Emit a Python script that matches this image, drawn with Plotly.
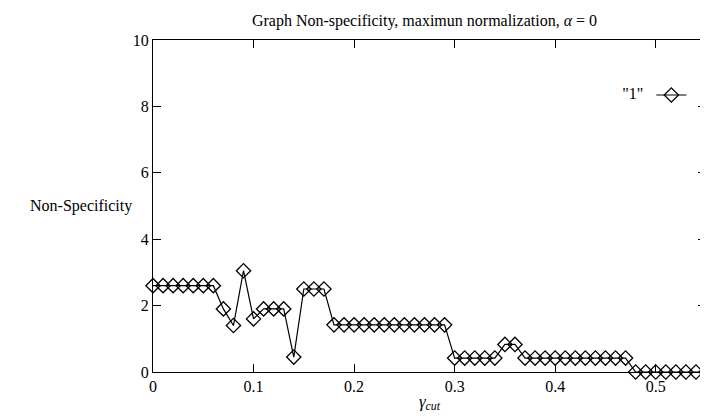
import plotly.graph_objects as go

# gamma cut values, one point every 0.01
gamma_cut = [round(i * 0.01, 2) for i in range(56)]
non_specificity = [
    2.6, 2.6, 2.6, 2.6, 2.6, 2.6, 2.6, 1.9, 1.4, 3.05,
    1.6, 1.9, 1.9, 1.9, 0.45, 2.5, 2.5, 2.5, 1.42, 1.42,
    1.42, 1.42, 1.42, 1.42, 1.42, 1.42, 1.42, 1.42, 1.42, 1.42,
    0.42, 0.42, 0.42, 0.42, 0.42, 0.83, 0.83, 0.42, 0.42, 0.42,
    0.42, 0.42, 0.42, 0.42, 0.42, 0.42, 0.42, 0.42, 0.0, 0.0,
    0.0, 0.0, 0.0, 0.0, 0.0, 0.0,
]
x_ticks = [0, 0.1, 0.2, 0.3, 0.4, 0.5]
x_tick_labels = ["0", "0.1", "0.2", "0.3", "0.4", "0.5"]
y_ticks = [0, 2, 4, 6, 8, 10]

serif = "Liberation Serif"

fig = go.Figure()
fig.add_scatter(
    x=gamma_cut, y=non_specificity, mode="lines+markers", name="",
    line=dict(color="black", width=1.2),
    marker=dict(symbol="diamond-open", size=11, color="black", line=dict(width=1.3)),
    cliponaxis=False,
)

axis_common = dict(
    showline=True, linecolor="black", linewidth=1.2, mirror="ticks",
    ticks="inside", ticklen=8, tickcolor="black", tickwidth=1,
    showgrid=False, zeroline=False, automargin=False,
    tickfont=dict(family=serif, size=16, color="black"),
)
fig.update_xaxes(
    range=[0, 0.55], tickvals=x_ticks, ticktext=x_tick_labels,
    title=dict(text="<i>γ<sub>cut</sub></i>", font=dict(family=serif, size=17, color="black"), standoff=0),
    **axis_common,
)
fig.update_yaxes(range=[0, 10], tickvals=y_ticks, **axis_common)

fig.add_annotation(
    text="Non-Specificity", xref="paper", yref="paper", x=-0.035, y=0.5,
    xanchor="right", yanchor="middle", showarrow=False,
    font=dict(family=serif, size=16, color="black"),
)

# page body adds ~8px offset, so the figure is a bit smaller than the window
fig.update_layout(
    width=700, height=412,
    margin=dict(l=145, r=2, t=32, b=48, autoexpand=False),
    paper_bgcolor="white", plot_bgcolor="white",
    title=dict(text="Graph Non-specificity, maximun normalization, <i>α</i> = 0",
               x=0.595, xanchor="center", y=0.97, yanchor="middle",
               font=dict(family=serif, size=16, color="black")),
    showlegend=True,
    legend=dict(
        x=0.845, y=0.834, xanchor="left", yanchor="middle",
        bgcolor="rgba(0,0,0,0)", itemwidth=30,
        title=dict(text='"1"', side="left", font=dict(family=serif, size=16, color="black")),
        font=dict(family=serif, size=16, color="black"),
    ),
)

fig.write_html("out.html")
